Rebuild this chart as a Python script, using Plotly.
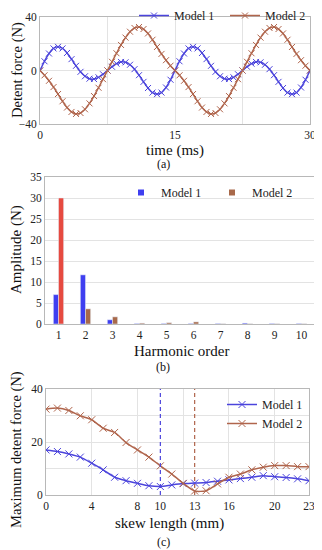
import plotly.graph_objects as go

# ---------------- data ----------------
# (a) detent force vs time
time_ms = [i * 0.5 for i in range(61)]
force_m1 = [0, 6.9, 12.7, 16.5, 17.7, 16.5, 13.1, 8.5, 3.5, -1.0, -4.3, -6.1, -6.4, -5.1, -2.8,
            0, 2.8, 5.1, 6.4, 6.1, 4.3, 1.0, -3.5, -8.5, -13.1, -16.5, -17.7, -16.5, -12.7, -6.9,
            0, 6.9, 12.7, 16.5, 17.7, 16.5, 13.1, 8.5, 3.5, -1.0, -4.3, -6.1, -6.4, -5.1, -2.8,
            0, 2.8, 5.1, 6.4, 6.1, 4.3, 1.0, -3.5, -8.5, -13.1, -16.5, -17.7, -16.5, -12.7, -6.9, 0]
force_m2 = [0, -3.6, -7.7, -12.4, -17.6, -23.0, -27.7, -31.0, -32.5, -31.8, -29.0, -24.6, -19.1, -12.9, -6.5,
            0, 6.5, 12.9, 19.1, 24.6, 29.0, 31.8, 32.5, 31.0, 27.7, 23.0, 17.6, 12.4, 7.7, 3.6,
            0, -3.6, -7.7, -12.4, -17.6, -23.0, -27.7, -31.0, -32.5, -31.8, -29.0, -24.6, -19.1, -12.9, -6.5,
            0, 6.5, 12.9, 19.1, 24.6, 29.0, 31.8, 32.5, 31.0, 27.7, 23.0, 17.6, 12.4, 7.7, 3.6, 0]

# (b) harmonic amplitudes
harmonic_order = [1, 2, 3, 4, 5, 6, 7, 8, 9, 10]
amp_m1 = [7.0, 11.7, 1.0, 0.1, 0.1, 0.1, 0.1, 0.2, 0.1, 0.1]
amp_m2 = [30.0, 3.6, 1.7, 0.2, 0.3, 0.5, 0.05, 0.05, 0.05, 0.05]

# (c) maximum detent force vs skew length
skew_mm = list(range(24))
maxf_m1 = [17.0, 16.4, 15.5, 14.3, 12.0, 9.5, 6.7, 5.4, 4.4, 3.5, 3.2, 3.8, 4.3, 4.5,
           4.7, 5.2, 5.7, 6.2, 6.7, 7.3, 6.9, 6.6, 6.1, 5.4]
maxf_m2 = [32.4, 32.8, 31.9, 29.9, 28.4, 25.2, 23.6, 19.8, 17.0, 14.3, 11.0, 7.9, 4.4, 1.5,
           1.6, 4.2, 6.7, 7.9, 9.5, 10.5, 11.1, 11.1, 10.7, 10.7]
optimal_skew = [10, 13]

# ---------------- style ----------------
# the page body has an 8px margin, so the figure is placed at (8, 8)
OFF = 8
W, H = 322 - OFF, 550 - OFF
C1 = "#4b44dc"
C2 = "#b0654c"
BAR1 = "#3f3ff0"
BAR2 = "#a8694a"
BAR2_HI = "#e64a40"
FONT = "Liberation Serif, Times New Roman, DejaVu Serif, serif"
GRID = "#e3e3e3"
FRAME = "#b8b8b8"

def px_x(p):
    return (p - OFF) / W

def px_y(p):
    return 1 - (p - OFF) / H

fig = go.Figure()

# (a)
fig.add_trace(go.Scatter(x=time_ms, y=force_m1, name="Model 1", mode="lines+markers",
                         line=dict(color=C1, width=1.5, shape="spline"),
                         marker=dict(symbol="x-thin-open", size=6, color=C1, line=dict(width=1, color="#8f8cf0")),
                         xaxis="x", yaxis="y", legend="legend"))
fig.add_trace(go.Scatter(x=time_ms, y=force_m2, name="Model 2", mode="lines+markers",
                         line=dict(color=C2, width=1.5, shape="spline"),
                         marker=dict(symbol="x-thin-open", size=6, color=C2, line=dict(width=1, color="#e8a092")),
                         xaxis="x", yaxis="y", legend="legend"))

# (b)
fig.add_trace(go.Bar(x=harmonic_order, y=amp_m1, name="Model 1", marker=dict(color=BAR1),
                     xaxis="x2", yaxis="y2", showlegend=False, offsetgroup="1"))
fig.add_trace(go.Bar(x=harmonic_order, y=amp_m2, name="Model 2",
                     marker=dict(color=[BAR2_HI] + [BAR2] * (len(amp_m2) - 1)),
                     xaxis="x2", yaxis="y2", showlegend=False, offsetgroup="2"))
fig.add_trace(go.Scatter(x=[None], y=[None], name="Model 1", mode="markers",
                         marker=dict(symbol="square", size=6, color=BAR1),
                         xaxis="x2", yaxis="y2", legend="legend2"))
fig.add_trace(go.Scatter(x=[None], y=[None], name="Model 2", mode="markers",
                         marker=dict(symbol="square", size=6, color=BAR2),
                         xaxis="x2", yaxis="y2", legend="legend2"))

# (c)
fig.add_trace(go.Scatter(x=skew_mm, y=maxf_m1, name="Model 1", mode="lines+markers",
                         line=dict(color=C1, width=1.5, shape="spline", smoothing=0.6),
                         marker=dict(symbol="x-thin-open", size=7, color=C1, line=dict(width=1, color="#8f8cf0")),
                         xaxis="x3", yaxis="y3", legend="legend3"))
fig.add_trace(go.Scatter(x=skew_mm, y=maxf_m2, name="Model 2", mode="lines+markers",
                         line=dict(color=C2, width=1.5, shape="spline", smoothing=0.6),
                         marker=dict(symbol="x-thin-open", size=7, color=C2, line=dict(width=1, color="#e8a092")),
                         xaxis="x3", yaxis="y3", legend="legend3"))

for xv, col in zip(optimal_skew, [C1, C2]):
    fig.add_shape(type="line", xref="x3", yref="y3 domain", x0=xv, x1=xv, y0=0, y1=1,
                  line=dict(color=col, width=1.2, dash="4px,3px"))

tickfont = dict(family=FONT, size=11.5, color="#222")
common_axis = dict(showline=True, linecolor=FRAME, mirror=True, ticks="", tickfont=tickfont,
                   zeroline=False, gridcolor=GRID, automargin=False)

fig.update_layout(
    width=W, height=H, margin=dict(l=0, r=0, t=0, b=0, autoexpand=False),
    paper_bgcolor="white", plot_bgcolor="white",
    font=dict(family=FONT, color="#111"),
    barmode="group", bargap=0.62, bargroupgap=0,
    xaxis=dict(domain=[px_x(40), px_x(310)], anchor="y", range=[0, 30],
               tickvals=[0, 15, 30], showgrid=True,
               minor=dict(tickvals=[7.5, 22.5], showgrid=True, gridcolor=GRID), **common_axis),
    yaxis=dict(domain=[px_y(124), px_y(17)], anchor="x", range=[-40, 40],
               tickvals=[-40, 0, 40], showgrid=True,
               minor=dict(tickvals=[-20, 20], showgrid=True, gridcolor=GRID), **common_axis),
    xaxis2=dict(domain=[px_x(45), px_x(315)], anchor="y2", range=[0.5, 10.5],
                tickvals=harmonic_order, showgrid=False, **common_axis),
    yaxis2=dict(domain=[px_y(324), px_y(177)], anchor="x2", range=[0, 35],
                dtick=5, showgrid=True, **common_axis),
    xaxis3=dict(domain=[px_x(46), px_x(309)], anchor="y3", range=[0, 23],
                tickvals=[0, 4, 8, 10, 13, 16, 20, 23], showgrid=False,
                minor=dict(tickvals=[4, 8, 12, 16, 20], showgrid=True, gridcolor=GRID), **common_axis),
    yaxis3=dict(domain=[px_y(495), px_y(389)], anchor="x3", range=[0, 40],
                tickvals=[0, 20, 40], showgrid=True,
                minor=dict(tickvals=[10, 30], showgrid=True, gridcolor=GRID), **common_axis),
    legend=dict(orientation="h", x=px_x(316), xanchor="right", y=px_y(1), yanchor="top",
                font=dict(family=FONT, size=12, color="#222"), bgcolor="rgba(0,0,0,0)",
                itemwidth=30, tracegroupgap=0, entrywidth=46, entrywidthmode="pixels"),
    legend2=dict(orientation="h", x=px_x(303), xanchor="right", y=px_y(178), yanchor="top",
                 font=dict(family=FONT, size=12, color="#222"), bgcolor="rgba(0,0,0,0)",
                 itemwidth=30, entrywidth=46, entrywidthmode="pixels"),
    legend3=dict(orientation="v", x=px_x(308), xanchor="right", y=px_y(390), yanchor="top",
                 font=dict(family=FONT, size=12, color="#222"), bgcolor="rgba(0,0,0,0)"),
)

ann = [
    ("Detent force (N)", 17, 70, -90, 14.5),
    ("time (ms)", 175, 150, 0, 15),
    ("(a)", 163, 164, 0, 12),
    ("Amplitude (N)", 17, 250, -90, 15),
    ("Harmonic order", 181, 351, 0, 15),
    ("(b)", 163, 367, 0, 12),
    ("Maximum detent force (N)", 17, 450, -90, 14.5),
    ("skew length (mm)", 169, 523, 0, 15),
    ("(c)", 163, 542, 0, 12),
]
for text, x, y, ang, sz in ann:
    fig.add_annotation(text=text, x=px_x(x), y=px_y(y), xref="paper", yref="paper",
                       showarrow=False, textangle=ang, xanchor="center", yanchor="middle",
                       font=dict(family=FONT, size=sz, color="#111"))

fig.write_html("out.html")
